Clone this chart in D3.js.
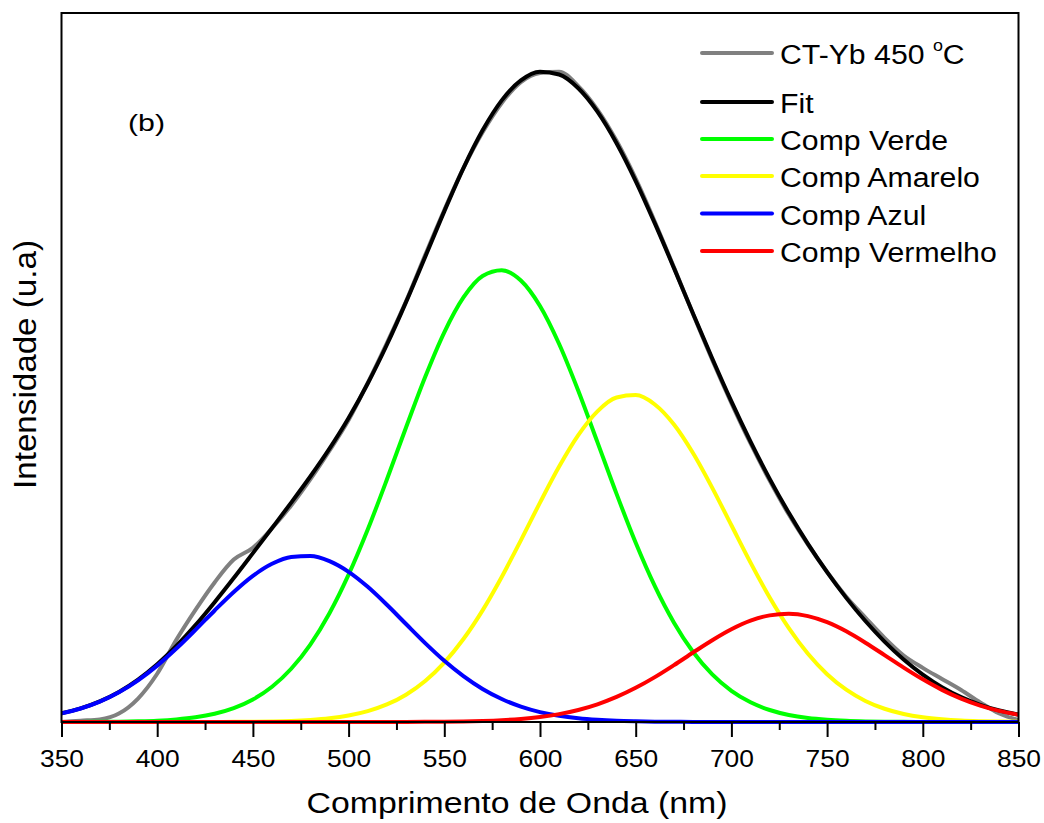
<!DOCTYPE html>
<html>
<head>
<meta charset="utf-8">
<script src="https://cdn.jsdelivr.net/npm/d3@7"></script>
<style>
  html, body { margin: 0; padding: 0; background: #fff; }
  svg { display: block; font-family: "Liberation Sans", Arial, sans-serif; }
</style>
</head>
<body>
<svg id="chart" width="1044" height="823"></svg>
<script>
// Wavelength grid (nm)
const wavelength = [350,360,370,380,390,400,410,420,430,440,
  450,460,470,480,490,500,510,520,530,540,
  550,560,570,580,590,600,610,620,630,640,
  650,660,670,680,690,700,710,720,730,740,
  750,760,770,780,790,800,810,820,830,840,850];

// Measured emission spectrum, CT-Yb 450 °C
const measured = [0.000,0.002,0.004,0.013,0.036,0.074,0.126,0.172,0.214,0.249,
  0.267,0.297,0.332,0.372,0.416,0.463,0.520,0.581,0.645,0.716,
  0.785,0.849,0.904,0.949,0.981,0.995,0.997,0.975,0.939,0.891,
  0.833,0.767,0.697,0.625,0.555,0.489,0.427,0.370,0.318,0.272,
  0.230,0.192,0.160,0.129,0.102,0.083,0.066,0.049,0.030,0.013,0.003];

// Total fit
const fit = [0.0133,0.0208,0.0316,0.0461,0.0650,0.0885,0.1166,0.1485,0.1837,0.2207,
  0.2589,0.2974,0.3363,0.3764,0.4191,0.4661,0.5190,0.5784,0.6437,0.7130,
  0.7829,0.8492,0.9071,0.9530,0.9837,0.9970,0.9927,0.9717,0.9358,0.8874,
  0.8294,0.7644,0.6959,0.6259,0.5574,0.4915,0.4299,0.3728,0.3207,0.2730,
  0.2297,0.1903,0.1548,0.1233,0.0959,0.0727,0.0534,0.0381,0.0264,0.0176,0.0114];

// Fitted components
const compVerde = [0.0001,0.0001,0.0003,0.0005,0.0011,0.0021,0.0040,0.0072,0.0126,0.0212,
  0.0345,0.0540,0.0816,0.1188,0.1668,0.2259,0.2951,0.3717,0.4515,0.5289,
  0.5975,0.6509,0.6838,0.6927,0.6769,0.6378,0.5795,0.5078,0.4291,0.3497,
  0.2748,0.2083,0.1523,0.1073,0.0730,0.0478,0.0302,0.0184,0.0108,0.0061,
  0.0034,0.0018,0.0009,0.0004,0.0002,0.0001,0,0,0,0,0];

const compAmarelo = [0,0,0,0,0,0,0,0,0.0001,0.0002,
  0.0004,0.0009,0.0017,0.0032,0.0057,0.0100,0.0167,0.0269,0.0419,0.0629,
  0.0911,0.1272,0.1712,0.2224,0.2785,0.3363,0.3916,0.4398,0.4763,0.4975,
  0.5012,0.4868,0.4561,0.4120,0.3590,0.3016,0.2444,0.1909,0.1439,0.1046,
  0.0733,0.0495,0.0323,0.0203,0.0123,0.0072,0.0041,0.0022,0.0012,0.0006,0.0003];

const compAzul = [0.0132,0.0207,0.0313,0.0456,0.0639,0.0864,0.1126,0.1413,0.1710,0.1993,
  0.2240,0.2425,0.2530,0.2544,0.2466,0.2302,0.2072,0.1797,0.1502,0.1210,
  0.0939,0.0703,0.0506,0.0352,0.0236,0.0152,0.0095,0.0057,0.0033,0.0018,
  0.0010,0.0005,0.0003,0.0001,0.0001,0,0,0,0,0,
  0,0,0,0,0,0,0,0,0,0,0];

const compVermelho = [0,0,0,0,0,0,0,0,0,0,
  0,0,0,0,0,0,0,0.0001,0.0001,0.0002,
  0.0004,0.0008,0.0015,0.0027,0.0047,0.0077,0.0121,0.0184,0.0271,0.0384,
  0.0524,0.0688,0.0872,0.1065,0.1253,0.1421,0.1553,0.1635,0.1660,0.1623,
  0.1530,0.1390,0.1216,0.1026,0.0834,0.0654,0.0493,0.0359,0.0252,0.0170,0.0111];

const seriesNames = ["CT-Yb 450 °C", "Fit", "Comp Verde", "Comp Amarelo", "Comp Azul", "Comp Vermelho"];
const seriesValues = [measured, fit, compVerde, compAmarelo, compAzul, compVermelho];
const seriesColors = ["#808080", "#000000", "#00ff00", "#ffff00", "#0000ff", "#ff0000"];

const majorTicks = [350,400,450,500,550,600,650,700,750,800,850];
const minorTicks = [375,425,475,525,575,625,675,725,775,825];

const xTitle = "Comprimento de Onda (nm)";
const yTitle = "Intensidade (u.a)";
const panelLabel = "(b)";

// ---- layout ----
const plot = { left: 61.5, right: 1018.5, top: 13, bottom: 722 };

const svg = d3.select("#chart");

const x = d3.scaleLinear().domain([350, 850]).range([plot.left, plot.right]);
const y = d3.scaleLinear().domain([0, 1.087]).range([plot.bottom, plot.top]);

const line = d3.line()
  .x((d, i) => x(wavelength[i]))
  .y(d => y(d))
  .curve(d3.curveMonotoneX);

// curves: spectrum first, then fit, then components
const curves = svg.append("g");
seriesValues.forEach((vals, k) => {
  curves.append("path")
    .datum(vals)
    .attr("d", line)
    .attr("fill", "none")
    .attr("stroke", seriesColors[k])
    .attr("stroke-width", 4)
    .attr("stroke-linejoin", "round")
    .attr("stroke-linecap", "butt");
});

// stretch helper for text
function stretch(sel, k) {
  sel.each(function () {
    const w = this.getComputedTextLength();
    d3.select(this).attr("textLength", w * k).attr("lengthAdjust", "spacingAndGlyphs");
  });
}

// bottom axis: major + minor ticks
const axisMajor = d3.axisBottom(x).tickValues(majorTicks).tickSize(15).tickPadding(13).tickFormat(d3.format("d"));
const axisMinor = d3.axisBottom(x).tickValues(minorTicks).tickSize(8).tickFormat("");

const gMinor = svg.append("g").attr("transform", `translate(0,${plot.bottom})`).call(axisMinor);
const gMajor = svg.append("g").attr("transform", `translate(0,${plot.bottom})`).call(axisMajor);
[gMinor, gMajor].forEach(g => {
  g.select(".domain").remove();
  g.selectAll(".tick line").attr("stroke", "#000").attr("stroke-width", 2);
});
gMajor.selectAll(".tick text")
  .attr("fill", "#000")
  .style("font-size", "24px")
  .style("font-family", "'Liberation Sans', Arial, sans-serif")
  .call(stretch, 1.1);

// frame
svg.append("rect")
  .attr("x", plot.left).attr("y", plot.top)
  .attr("width", plot.right - plot.left).attr("height", plot.bottom - plot.top)
  .attr("fill", "none").attr("stroke", "#000").attr("stroke-width", 2);

// axis titles
svg.append("text")
  .attr("x", 517).attr("y", 813)
  .attr("text-anchor", "middle")
  .style("font-size", "29px")
  .attr("textLength", 421).attr("lengthAdjust", "spacingAndGlyphs")
  .text(xTitle);

svg.append("text")
  .attr("transform", "translate(36,364.5) rotate(-90)")
  .attr("text-anchor", "middle")
  .style("font-size", "31px")
  .attr("textLength", 249).attr("lengthAdjust", "spacingAndGlyphs")
  .text(yTitle);

// panel label
svg.append("text")
  .attr("x", 128).attr("y", 131)
  .style("font-size", "24px")
  .attr("textLength", 37).attr("lengthAdjust", "spacingAndGlyphs")
  .text(panelLabel);

// legend
const legendY = [53, 102, 139, 176, 213.5, 251];
const legend = svg.append("g");
seriesNames.forEach((name, k) => {
  const ly = legendY[k];
  legend.append("line")
    .attr("x1", 702).attr("x2", 772)
    .attr("y1", ly).attr("y2", ly)
    .attr("stroke", seriesColors[k]).attr("stroke-width", 4)
    .attr("stroke-linecap", "round");
  const t = legend.append("text")
    .attr("transform", `translate(780,${ly + 11}) scale(1.12,1)`)
    .style("font-size", "27px");
  if (name.includes("°")) {
    const [before, after] = name.split("°");
    t.append("tspan").text(before);
    t.append("tspan").attr("dy", -13).style("font-size", "16px").text("o");
    t.append("tspan").attr("dy", 13).text(after);
  } else {
    t.text(name);
  }
});
</script>
</body>
</html>
